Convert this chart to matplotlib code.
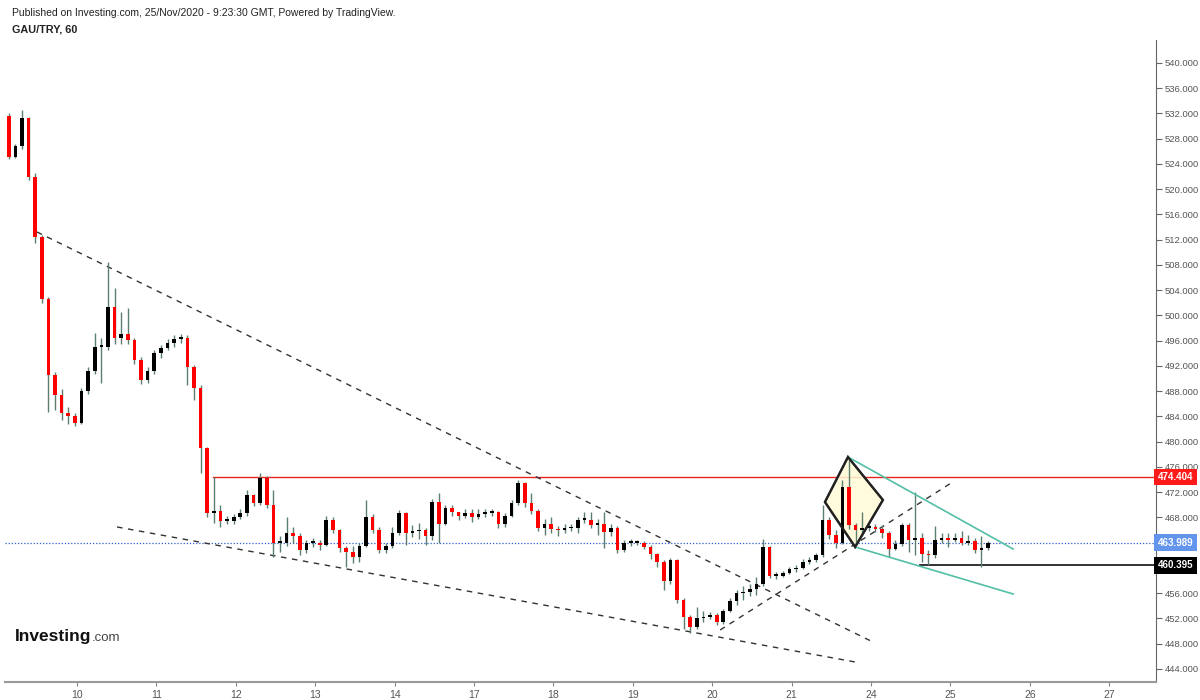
import numpy as np
import matplotlib
matplotlib.use("Agg")
import matplotlib.pyplot as plt
import matplotlib.transforms as mtransforms

plt.rcParams['font.family'] = ['Liberation Sans', 'DejaVu Sans']

# GAU/TRY, 2-hour candles (open = previous close)
first_open = 531.6
closes = [525.1, 526.8, 531.3, 522.0, 512.4, 502.6, 490.6, 487.4, 484.5, 484.0,
          483.0, 488.0, 491.2, 495.0, 495.0, 501.3, 496.5, 497.0, 496.1, 493.0,
          489.8, 491.2, 494.1, 494.9, 495.6, 496.3, 496.5, 491.8, 488.5, 479.0,
          468.7, 469.0, 467.5, 467.5, 468.0, 468.7, 471.6, 470.3, 474.3, 470.0,
          464.0, 464.0, 465.5, 465.0, 462.8, 464.0, 464.0, 463.7, 467.6, 466.0,
          463.2, 462.5, 461.8, 463.5, 468.1, 466.0, 462.9, 463.5, 465.5, 468.7,
          465.5, 465.8, 466.0, 465.0, 470.5, 467.0, 469.5, 468.8, 468.2, 468.7,
          468.0, 468.6, 468.7, 468.9, 467.0, 468.3, 470.3, 473.4, 470.3, 469.0,
          466.3, 467.0, 466.2, 466.0, 466.3, 466.3, 467.6, 467.6, 466.8, 467.0,
          465.7, 466.3, 462.8, 464.0, 464.0, 464.0, 463.4, 462.2, 461.0, 458.0,
          461.2, 455.0, 452.3, 450.6, 452.0, 452.3, 452.5, 451.5, 453.2, 454.8,
          456.0, 456.2, 456.7, 457.5, 463.3, 458.8, 458.8, 459.2, 459.8, 460.0,
          461.0, 461.2, 462.0, 467.6, 465.2, 464.0, 472.8, 466.8, 466.0, 466.4,
          466.5, 466.2, 465.5, 463.0, 463.8, 466.8, 464.5, 464.8, 462.2, 462.0,
          464.5, 464.8, 464.5, 464.8, 464.0, 464.3, 462.8, 463.2, 464.0]
highs = [532.0, 527.2, 532.6, 531.5, 522.5, 512.8, 503.0, 491.0, 488.3, 485.5,
         484.5, 488.5, 491.8, 497.2, 496.5, 508.5, 504.4, 500.5, 501.2, 496.5,
         493.5, 491.8, 494.6, 495.4, 496.2, 496.9, 497.0, 496.9, 492.2, 489.0,
         479.2, 474.4, 470.0, 468.2, 468.5, 469.3, 472.3, 471.8, 475.0, 474.5,
         472.3, 465.0, 468.0, 466.5, 465.5, 464.5, 464.8, 464.5, 468.3, 468.0,
         466.2, 463.5, 463.5, 464.0, 470.8, 468.5, 466.5, 464.0, 466.5, 469.2,
         468.9, 466.8, 467.2, 466.4, 471.0, 471.9, 470.0, 470.0, 468.9, 469.3,
         469.3, 469.3, 469.3, 469.4, 469.1, 468.7, 470.8, 474.0, 473.7, 471.9,
         469.3, 467.8, 468.0, 466.6, 467.0, 467.0, 468.0, 468.9, 468.8, 467.8,
         468.9, 467.0, 466.6, 464.5, 464.6, 464.4, 464.2, 463.6, 462.4, 461.2,
         461.6, 461.5, 455.2, 452.6, 453.8, 453.2, 453.0, 452.8, 453.5, 455.2,
         456.5, 457.2, 457.5, 458.5, 464.6, 463.5, 459.3, 459.6, 460.2, 460.5,
         461.4, 461.8, 462.4, 470.0, 468.0, 466.0, 474.0, 477.6, 467.2, 468.9,
         467.0, 467.0, 466.8, 465.8, 464.5, 467.2, 467.2, 472.0, 465.5, 462.8,
         466.6, 465.6, 465.5, 465.6, 465.8, 465.3, 464.8, 465.0, 464.3]
lows = [524.8, 524.9, 526.4, 521.5, 511.5, 502.0, 484.7, 485.0, 483.5, 482.8,
        482.5, 482.8, 487.5, 490.8, 489.3, 494.5, 495.5, 495.5, 495.5, 492.3,
        489.2, 489.3, 490.8, 493.3, 494.6, 495.0, 495.6, 489.0, 486.6, 475.1,
        468.0, 467.2, 466.5, 466.9, 467.0, 467.8, 468.2, 469.8, 470.0, 469.5,
        461.8, 462.5, 463.5, 464.0, 462.0, 462.3, 463.3, 462.8, 463.5, 465.5,
        462.5, 460.2, 460.8, 461.0, 463.3, 465.5, 462.3, 462.3, 463.2, 465.2,
        463.6, 464.9, 464.6, 463.7, 464.5, 464.0, 466.8, 468.3, 467.6, 467.9,
        467.3, 467.7, 468.1, 468.2, 466.4, 466.5, 468.1, 470.0, 469.7, 468.6,
        465.8, 465.2, 465.5, 465.0, 465.5, 465.8, 465.6, 467.2, 466.3, 465.3,
        463.2, 465.0, 462.4, 462.6, 463.5, 463.6, 463.0, 461.5, 460.2, 456.5,
        457.5, 454.5, 450.4, 449.7, 450.3, 451.5, 451.9, 451.0, 451.2, 453.0,
        454.2, 455.0, 455.6, 455.7, 457.2, 458.4, 458.2, 458.5, 459.0, 459.3,
        459.8, 460.6, 460.9, 461.8, 464.6, 463.2, 463.8, 466.2, 463.8, 465.3,
        465.8, 465.7, 464.8, 461.8, 462.8, 463.5, 462.5, 462.0, 461.0, 460.5,
        461.6, 463.9, 463.4, 464.1, 463.6, 463.6, 462.3, 460.2, 462.9]

day_labels = ['10', '11', '12', '13', '14', '17', '18', '19', '20', '21', '24', '25', '26', '27']
y_ticks = list(range(444, 541, 4))

resistance = 474.404
last_price = 463.989
support = 460.395

# drawn trend lines, (x in days, price)
trend_upper = [(-0.504, 513.23), (10.05, 448.12)]
trend_lower = [(0.504, 466.5), (9.80, 445.11)]
trend_rising = [(8.10, 450.18), (11.01, 473.47)]
channel_top = [(9.71, 477.58), (11.79, 463.01)]
channel_bottom = [(9.80, 463.33), (11.79, 455.88)]
diamond = [(9.71, 477.58), (10.15, 470.77), (9.80, 463.33), (9.42, 470.45)]

step = 1 / 12.0
start = -0.86

fig = plt.figure(figsize=(12, 7), dpi=100)
ax = fig.add_axes([5 / 1200, 18 / 700, 1151 / 1200, 642 / 700])

opens = [first_open] + closes[:-1]
xs = start + np.arange(len(closes)) * step
wick_col = '#5b7f6c'
ax.vlines(xs, lows, highs, color=wick_col, linewidth=1, zorder=3)
body_bottom = np.minimum(opens, closes)
body_h = np.maximum(np.abs(np.array(closes) - np.array(opens)), 0.25)
colors = ['#ff0000' if c < o else '#000000' for o, c in zip(opens, closes)]
ax.bar(xs, body_h, bottom=body_bottom, width=step * 0.55, color=colors,
       linewidth=0, zorder=4)

# horizontal levels
ax.plot([1.713, 14], [resistance, resistance], color='#e8241f', lw=1, zorder=2)
ax.axhline(last_price, color='#2f5fd0', lw=0.9, ls=(0, (1, 1.5)), zorder=2)
ax.plot([10.617, 14], [support, support], color='#222222', lw=1.3, zorder=2)

for line in (trend_upper, trend_lower, trend_rising):
    (x0, y0), (x1, y1) = line
    ax.plot([x0, x1], [y0, y1], color='#333333', lw=1, ls=(0, (4, 4)), zorder=2)

for line in (channel_top, channel_bottom):
    (x0, y0), (x1, y1) = line
    ax.plot([x0, x1], [y0, y1], color='#52bfa6', lw=1.2, zorder=5)

ax.add_patch(plt.Polygon(diamond, closed=True, facecolor='#fffbd6', alpha=0.85,
                         edgecolor='#222222', lw=1.6, zorder=2))
ax.add_patch(plt.Polygon(diamond, closed=True, facecolor='none',
                         edgecolor='#222222', lw=1.6, zorder=6))

ax.set_xlim((5 - 77) / 79.4, (1156 - 77) / 79.4)
ax.set_ylim(441.94, 543.64)

for s in ('top', 'left'):
    ax.spines[s].set_visible(False)
ax.spines['right'].set_color('#666666')
ax.spines['bottom'].set_color('#999999')
ax.spines['bottom'].set_linewidth(1.5)

# labels under the price tags are hidden, as on the original
hidden = (460, 464)
ax.yaxis.tick_right()
ax.set_yticks(y_ticks)
ax.set_yticklabels(['' if v in hidden else '%.3f' % v for v in y_ticks])
ax.set_xticks(range(len(day_labels)))
ax.set_xticklabels(day_labels)
ax.tick_params(axis='y', length=4, width=0.8, color='#666666', labelsize=6.8,
               labelcolor='#555555', pad=2)
ax.tick_params(axis='x', length=3, width=0.8, color='#888888', labelsize=7.5,
               labelcolor='#555555', pad=3)

# price tags on the right axis
trans = mtransforms.blended_transform_factory(ax.transAxes, ax.transData)
for val, col in ((resistance, '#ff1a1a'), (last_price, '#6495ed'), (support, '#000000')):
    ax.text(1.0015, val, '%.3f' % val, transform=trans, ha='left', va='center',
            fontsize=7, color='white', fontweight='bold', zorder=10, clip_on=False,
            bbox=dict(boxstyle='square,pad=0.35', facecolor=col, edgecolor='none'))

fig.text(12 / 1200, 1 - 13 / 700,
         'Published on Investing.com, 25/Nov/2020 - 9:23:30 GMT, Powered by TradingView.',
         fontsize=7.5, color='#222222', va='center', ha='left')
fig.text(12 / 1200, 1 - 30 / 700, 'GAU/TRY, 60', fontsize=7.8, fontweight='bold',
         color='#222222', va='center', ha='left')

# Investing.com logo
logo = fig.text(15 / 1200, 1 - 637 / 700, 'Investing', fontsize=12.5, fontweight='bold',
                color='#111111', va='center', ha='left')
fig.canvas.draw()
bb = logo.get_window_extent()
fig.text(bb.x1 / 1200, 1 - 638 / 700, '.com', fontsize=9.5,
         color='#444444', va='center', ha='left')

fig.savefig('out.png', dpi=100)
